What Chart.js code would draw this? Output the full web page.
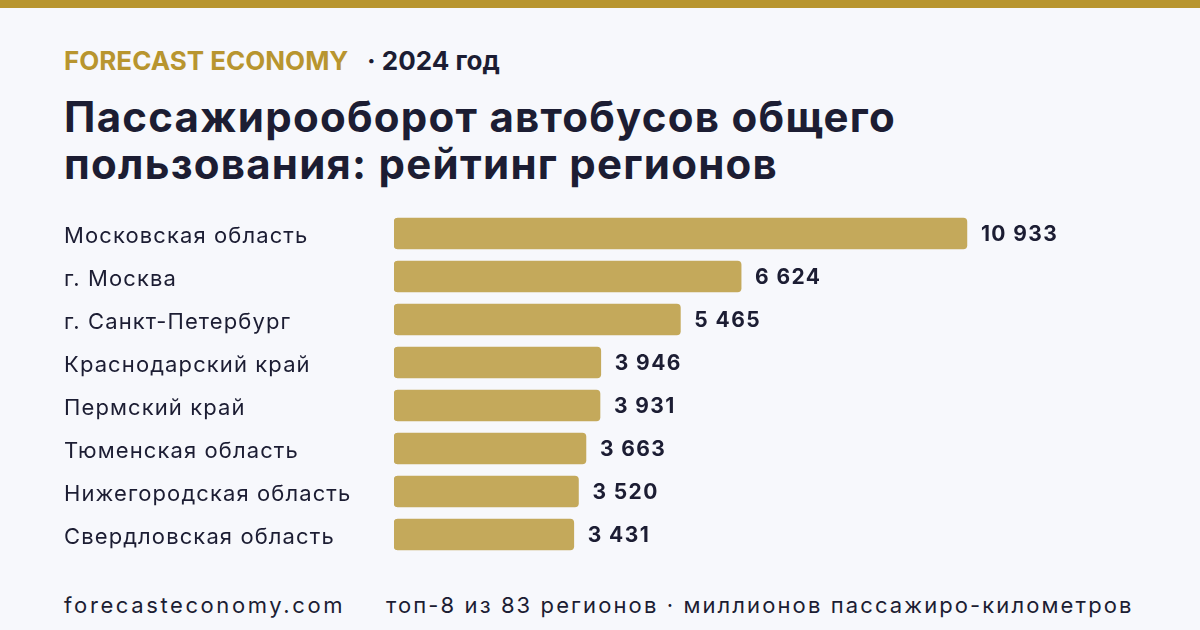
<!DOCTYPE html>
<html lang="ru">
<head>
    <meta charset="UTF-8">
    <title>Пассажирооборот автобусов общего пользования</title>
    <script src="https://cdn.jsdelivr.net/npm/chart.js@4.4.0/dist/chart.umd.min.js"></script>
    <style>
        html, body {
            margin: 0;
            width: 1200px;
            height: 630px;
            overflow: hidden;
            background: #f7f8fc;
            font-family: 'Inter', sans-serif;
            color: #1c1d33;
        }
        .topbar { position: absolute; left: 0; top: 0; width: 1200px; height: 8px; background: #b8952f; }
        .kicker { position: absolute; top: 48px; font-size: 26px; line-height: 26px; font-weight: 700; white-space: nowrap; }
        .brand { color: #b8952f; }
        h1 {
            position: absolute; left: 64px; top: 93px; margin: 0;
            font-size: 42px; line-height: 47px; font-weight: 700; letter-spacing: 1.25px;
        }
        #chart { position: absolute; left: 0; top: 212px; }
        .footer { position: absolute; top: 594px; font-size: 22px; line-height: 22px; white-space: nowrap; }
    </style>
</head>
<body>
    <div class="topbar"></div>
    <div class="kicker brand" style="left:64px">FORECAST ECONOMY</div>
    <div class="kicker" style="left:367px">· 2024 год</div>
    <h1>Пассажирооборот автобусов общего<br>пользования: рейтинг регионов</h1>
    <canvas id="chart" width="1200" height="344"></canvas>
    <div class="footer" style="left:64px; letter-spacing:2.6px">forecasteconomy.com</div>
    <div class="footer" style="left:386px; letter-spacing:2.1px">топ-8 из 83 регионов · миллионов пассажиро-километров</div>
    <script>
        // data
        const regions = [
            'Московская область',
            'г. Москва',
            'г. Санкт-Петербург',
            'Краснодарский край',
            'Пермский край',
            'Тюменская область',
            'Нижегородская область',
            'Свердловская область'
        ];
        const passengerKm = [10933, 6624, 5465, 3946, 3931, 3663, 3520, 3431];

        const fmt = v => String(v).replace(/\B(?=(\d{3})+(?!\d))/g, ' ');

        // wider tracking for canvas text, closer to the reference
        const tracking = {
            id: 'tracking',
            beforeDraw(chart) { chart.ctx.letterSpacing = '1.1px'; }
        };

        // value labels at the end of each bar
        const valueLabels = {
            id: 'valueLabels',
            afterDatasetsDraw(chart) {
                const ctx = chart.ctx;
                const meta = chart.getDatasetMeta(0);
                ctx.save();
                ctx.font = '700 21px Inter';
                ctx.letterSpacing = '1.4px';
                ctx.fillStyle = '#1c1d33';
                ctx.textBaseline = 'middle';
                meta.data.forEach((bar, i) => {
                    ctx.fillText(fmt(passengerKm[i]), bar.x + 14, bar.y + 1);
                });
                ctx.restore();
            }
        };

        new Chart(document.getElementById('chart'), {
            type: 'bar',
            data: {
                labels: regions,
                datasets: [{
                    data: passengerKm,
                    backgroundColor: '#c4a95b',
                    borderRadius: 4,
                    borderSkipped: false,
                    barThickness: 31
                }]
            },
            options: {
                indexAxis: 'y',
                responsive: false,
                animation: false,
                layout: { padding: { left: 64, right: 64, top: 0, bottom: 0 } },
                scales: {
                    x: { display: false, min: 0, max: 14160 },
                    y: {
                        grid: { display: false },
                        border: { display: false },
                        afterFit(scale) {
                            scale.width = 330;
                            scale.paddingTop = 0;
                            scale.paddingBottom = 0;
                        },
                        ticks: {
                            crossAlign: 'far',
                            padding: 0,
                            labelOffset: 3,
                            color: '#1c1d33',
                            font: { family: 'Inter', size: 22 }
                        }
                    }
                },
                plugins: {
                    legend: { display: false },
                    tooltip: { enabled: false }
                }
            },
            plugins: [tracking, valueLabels]
        });
    </script>
</body>
</html>
